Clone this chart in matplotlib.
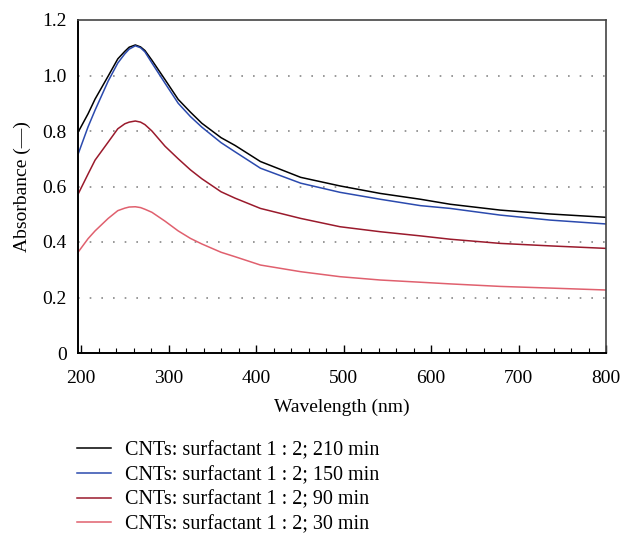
import numpy as np
import matplotlib
matplotlib.use('Agg')
import matplotlib.pyplot as plt
from matplotlib.ticker import MultipleLocator, FixedLocator

# wavelength grid (nm)
wavelength = [197, 208, 216, 231, 242, 250, 255, 262, 268, 273, 281, 296, 311, 325, 338,
              360, 376, 405, 451, 496, 542, 588, 622, 679, 736, 800]

abs_210 = [0.798, 0.862, 0.915, 0.998, 1.060, 1.087, 1.102, 1.110, 1.103, 1.090, 1.055,
           0.985, 0.914, 0.868, 0.828, 0.776, 0.748, 0.690, 0.633, 0.602, 0.575, 0.554,
           0.536, 0.515, 0.501, 0.489]
abs_150 = [0.720, 0.815, 0.875, 0.980, 1.045, 1.078, 1.095, 1.107, 1.100, 1.085, 1.045,
           0.972, 0.900, 0.852, 0.814, 0.758, 0.725, 0.666, 0.612, 0.579, 0.554, 0.531,
           0.521, 0.497, 0.479, 0.465]
abs_90 = [0.575, 0.645, 0.695, 0.760, 0.808, 0.826, 0.832, 0.836, 0.832, 0.823, 0.800,
          0.745, 0.700, 0.660, 0.628, 0.581, 0.558, 0.521, 0.485, 0.455, 0.437, 0.422,
          0.410, 0.395, 0.386, 0.377]
abs_30 = [0.365, 0.412, 0.440, 0.485, 0.513, 0.522, 0.526, 0.527, 0.524, 0.518, 0.507,
          0.475, 0.440, 0.413, 0.393, 0.363, 0.347, 0.317, 0.293, 0.275, 0.263, 0.255,
          0.249, 0.240, 0.234, 0.227]

labels = ['CNTs: surfactant 1 : 2; 210 min',
          'CNTs: surfactant 1 : 2; 150 min',
          'CNTs: surfactant 1 : 2; 90 min',
          'CNTs: surfactant 1 : 2; 30 min']
colors = ['#000000', '#2b4aae', '#9a1a2c', '#e0606e']

plt.rcParams['font.family'] = ['Liberation Serif', 'DejaVu Serif']

fig = plt.figure(figsize=(6.21, 5.37), dpi=100)
ax = fig.add_axes([78 / 621, 1 - 353 / 537, (606 - 78) / 621, (353 - 20) / 537])

for series, lab, col in zip([abs_210, abs_150, abs_90, abs_30], labels, colors):
    ax.plot(wavelength, series, color=col, lw=1.1, label=lab)

ax.set_xlim(196.5, 800)
ax.set_ylim(0, 1.2)

ax.xaxis.set_major_locator(MultipleLocator(100))
ax.xaxis.set_minor_locator(MultipleLocator(20))
ax.tick_params(axis='x', which='major', direction='in', length=6, width=1.0,
               labelsize=14, pad=12)
ax.tick_params(axis='x', which='minor', direction='in', length=3.5, width=0.8)

ax.yaxis.set_major_locator(FixedLocator([0, 0.2, 0.4, 0.6, 0.8, 1.0, 1.2]))
ax.set_yticklabels(['0', '0.2', '0.4', '0.6', '0.8', '1.0', '1.2'])
ax.tick_params(axis='y', which='major', length=0, labelsize=14, pad=8)

for g in [0.2, 0.4, 0.6, 0.8, 1.0]:
    ax.axhline(g, color='#888888', lw=1.2, linestyle=(0, (1, 6)), zorder=0)

ax.spines['left'].set_linewidth(1.4)
ax.spines['bottom'].set_linewidth(1.4)
ax.spines['top'].set_color('#444444')
ax.spines['right'].set_color('#444444')
ax.spines['top'].set_linewidth(1.2)
ax.spines['right'].set_linewidth(1.2)

ax.set_xlabel('Wavelength (nm)', fontsize=14, labelpad=9)
ax.set_ylabel('Absorbance (—)', fontsize=14, labelpad=8)

fig.legend(loc='upper left', bbox_to_anchor=(69 / 621, 1 - 433 / 537), frameon=False,
           fontsize=14.5, handlelength=1.7, handletextpad=0.7, labelspacing=0.28,
           borderaxespad=0)

fig.savefig('out.png', dpi=100)
